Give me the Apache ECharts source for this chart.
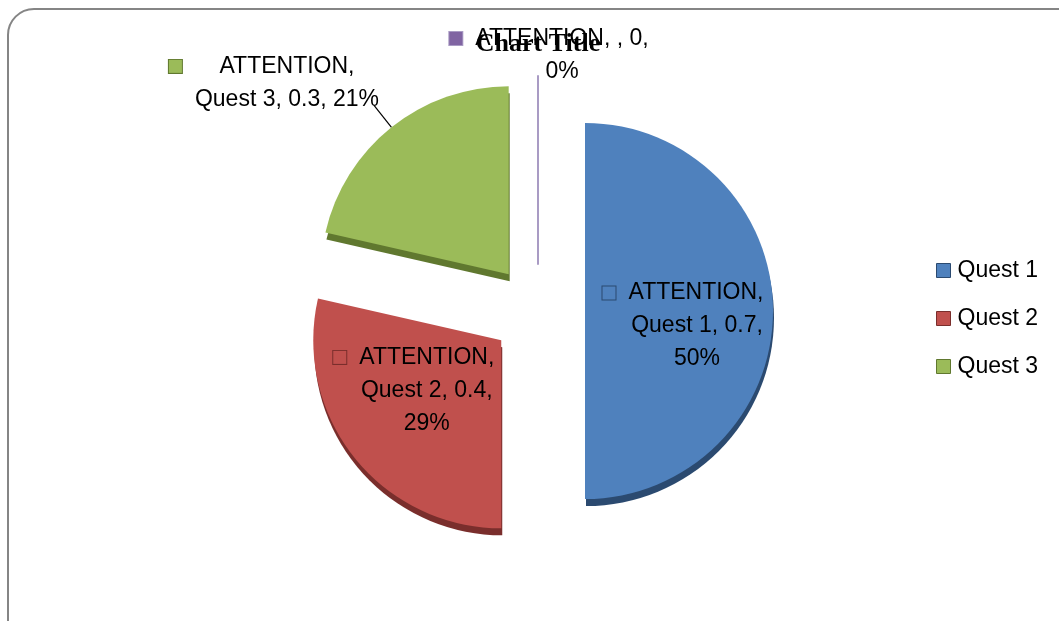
<!DOCTYPE html>
<html>
<head>
<meta charset="utf-8">
<script src="https://cdn.jsdelivr.net/npm/echarts@6.0.0/dist/echarts.min.js"></script>
<style>
html,body{margin:0;padding:0;background:#ffffff;}
#chart{width:1059px;height:621px;}
</style>
</head>
<body>
<div id="chart"></div>
<script>
// ---- data ----
const chartTitle = 'Chart Title';
const seriesName = 'ATTENTION';
const categories = ['Quest 1', 'Quest 2', 'Quest 3', ''];
const values = [0.7, 0.4, 0.3, 0];
const legendItems = ['Quest 1', 'Quest 2', 'Quest 3'];

// ---- style ----
const colors = ['#4F81BD', '#C0504D', '#9BBB59', '#8064A2'];
const sideColors = ['#2B4A70', '#7A2E2C', '#60782F', '#A99BC4'];
const lineGroups = [[1, 2, 1], [1, 2, 1], [1, 3], [3, 1]];
const FONT = '"Liberation Sans", Arial, sans-serif';
const FS = 23, LH = 33;

const mctx = document.createElement('canvas').getContext('2d');
function tw(s, font) { mctx.font = font || (FS + 'px "Liberation Sans"'); return mctx.measureText(s).width; }

const total = values.reduce((a, b) => a + b, 0);

// align: ECharts aligns outside labels 'left' (right half) or 'right' (left half)
function buildLabel(i, align) {
  const pct = Math.round(values[i] / total * 100);
  const parts = [seriesName + ',', categories[i] + ',', values[i] + ',', pct + '%'];
  const lines = []; let k = 0;
  lineGroups[i].forEach(n => { lines.push(parts.slice(k, k + n).join(' ')); k += n; });
  const widths = lines.map(l => tw(l));
  const W = Math.max(...widths);
  const rich = {
    box: { width: 13, height: 13, backgroundColor: colors[i], borderColor: sideColors[i], borderWidth: 1, lineHeight: LH },
    gap: { width: (W - widths[0]) / 2 + 13, lineHeight: LH }
  };
  let text = '';
  lines.forEach((l, j) => {
    if (j > 0) text += '\n';
    if (j === 0) {
      text += '{box|}{gap|}' + l;
      const tr = align === 'right' ? (W - widths[0]) / 2 : (align === 'center' ? (W - widths[0]) / 2 + 27 : 0);
      if (tr > 0.5) { rich.t0 = { width: tr, lineHeight: LH }; text += '{t0|}'; }
    } else {
      if (align === 'left') {
        rich['l' + j] = { width: (W - widths[j]) / 2 + 27, lineHeight: LH };
        text += '{l' + j + '|}' + l;
      } else if (align === 'right') {
        const tr = (W - widths[j]) / 2;
        text += l;
        if (tr > 0.5) { rich['t' + j] = { width: tr, lineHeight: LH }; text += '{t' + j + '|}'; }
      } else {
        text += l;
      }
    }
  });
  return { text, rich, W };
}

const labelAlign = ['left', 'right', 'right', 'right'];
const labels = categories.map((c, i) => buildLabel(i, labelAlign[i]));

const labelPadding = [
  [30, 0, 0, 0],
  [2, 0, 19, 0],
  [0, -10, 45, 0],
  [0, 0, 42, 0]
];
const lineCfg = [
  { show: false, length: -94, length2: -14 - labels[0].W / 2 },
  { show: false, length: -94, length2: -(labels[1].W / 2 + 4) },
  { show: true, length: 28, length2: 0 },
  { show: false, length: 0, length2: -(labels[3].W / 2 + 29) }
];

const pieData = categories.map((name, i) => {
  const lb = labels[i];
  const isZero = values[i] === 0;
  const itemStyle = isZero
    ? { color: colors[i], borderColor: sideColors[i], borderWidth: 2 }
    : { color: colors[i], borderWidth: 0,
        shadowColor: sideColors[i], shadowBlur: 0, shadowOffsetX: 1, shadowOffsetY: 7 };
  return {
    name: name,
    value: values[i],
    selected: true,
    itemStyle: itemStyle,
    select: { itemStyle: itemStyle },
    label: {
      show: true,
      position: 'outside',
      padding: labelPadding[i],
      formatter: lb.text,
      rich: lb.rich,
      distanceToLabelLine: 5
    },
    labelLine: {
      show: lineCfg[i].show,
      length: lineCfg[i].length,
      length2: lineCfg[i].length2,
      smooth: false,
      lineStyle: { color: '#000', width: 1.2 }
    }
  };
});

const legendData = legendItems.map(name => {
  const i = categories.indexOf(name);
  return { name: name, itemStyle: { color: colors[i], borderColor: sideColors[i], borderWidth: 1 } };
});

const chart = echarts.init(document.getElementById('chart'), null, { renderer: 'canvas' });
const titleFont = 'bold 26px "Liberation Serif"';

chart.setOption({
  animation: false,
  backgroundColor: '#ffffff',
  graphic: [{
    type: 'rect', silent: true, z: -10,
    shape: { x: 8, y: 9, width: 1080, height: 640, r: 26 },
    style: { fill: 'none', stroke: '#858585', lineWidth: 2 }
  }],
  title: {
    text: chartTitle,
    left: 538 - tw(chartTitle, titleFont) / 2 - 5,
    top: 26,
    z: 1,
    textStyle: { fontFamily: '"Liberation Serif", "Times New Roman", serif', fontSize: 26, fontWeight: 'bold', color: '#000' }
  },
  legend: {
    data: legendData,
    orient: 'vertical',
    left: 931,
    top: 254,
    itemWidth: 14,
    itemHeight: 14,
    itemGap: 25,
    icon: 'rect',
    selectedMode: false,
    textStyle: { fontFamily: FONT, fontSize: FS, color: '#000', padding: [0, 0, 0, 2] },
    itemStyle: { shadowBlur: 0, shadowOffsetX: 0, shadowOffsetY: 0, shadowColor: 'rgba(0,0,0,0)' }
  },
  series: [{
    type: 'pie',
    name: seriesName,
    center: [538, 311],
    radius: 188,
    startAngle: 90,
    clockwise: true,
    selectedMode: 'multiple',
    selectedOffset: 47,
    avoidLabelOverlap: false,
    percentPrecision: 0,
    emphasis: { disabled: true },
    label: { color: '#000', fontFamily: FONT, fontSize: FS, lineHeight: LH, textBorderWidth: 0 },
    data: pieData
  }]
});
</script>
</body>
</html>
